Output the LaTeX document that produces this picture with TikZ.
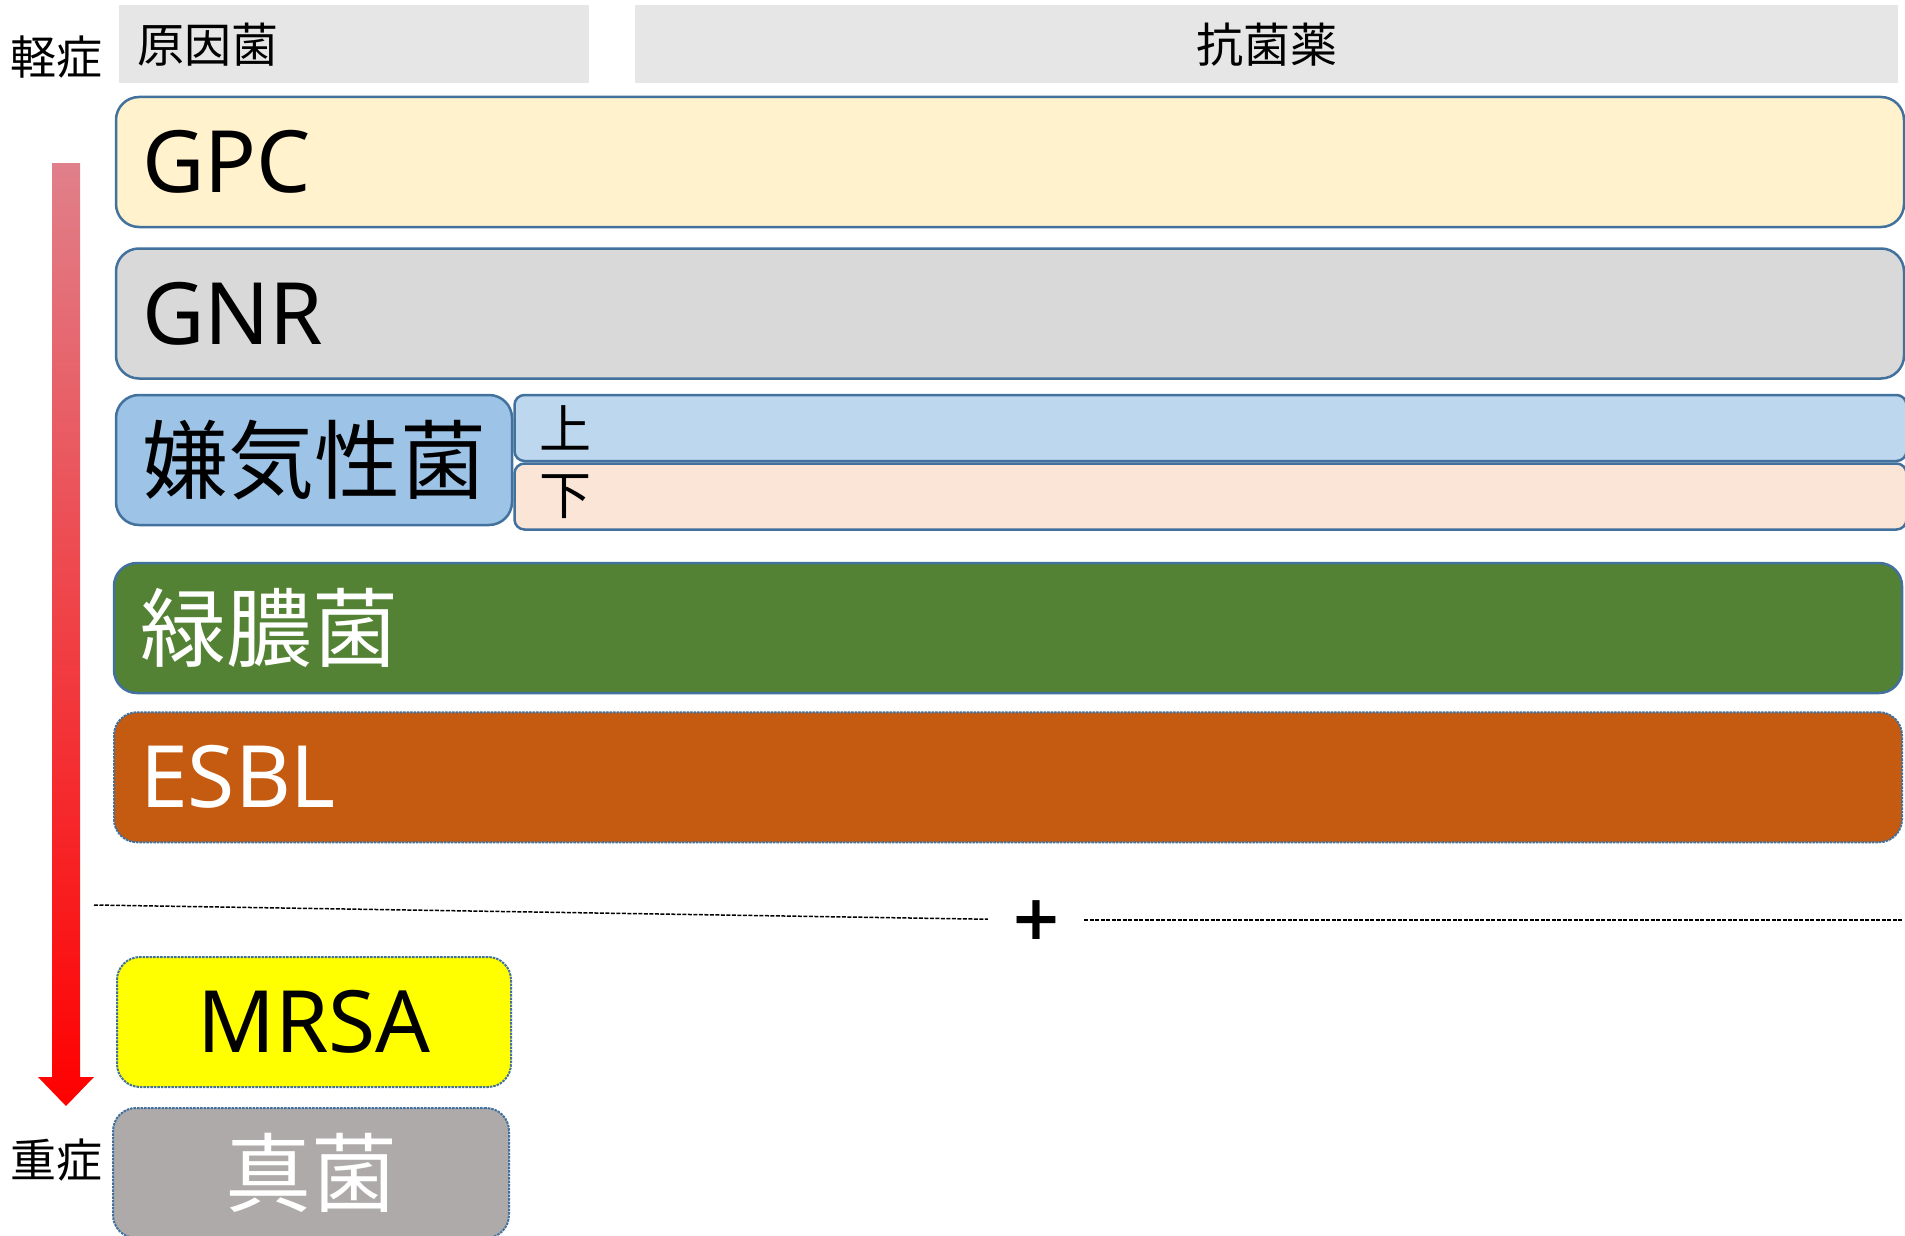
\documentclass[tikz,border=0pt]{standalone}
\usepackage{fontspec}
\setmainfont{Noto Sans CJK JP}
\newfontfamily\latinfont{Noto Sans}
\newfontfamily\plusfont{DejaVu Sans}
\usepackage{tikz}
\usetikzlibrary{positioning, calc}

\definecolor{hdrgray}{HTML}{E6E6E6}
\definecolor{edgeblue}{HTML}{41719C}
\definecolor{gpcfill}{HTML}{FFF2CC}
\definecolor{gnrfill}{HTML}{D9D9D9}
\definecolor{anafill}{HTML}{9DC3E6}
\definecolor{upfill}{HTML}{BDD7EE}
\definecolor{lowfill}{HTML}{FBE5D6}
\definecolor{pafill}{HTML}{548235}
\definecolor{esblfill}{HTML}{C55A11}
\definecolor{mrsafill}{HTML}{FFFF00}
\definecolor{fungfill}{HTML}{AEAAAA}
\definecolor{arrowtop}{HTML}{E0808A}

\begin{document}
\begin{tikzpicture}[
    x=1pt, y=-1pt,
    hdr/.style={rectangle, fill=hdrgray, minimum height=78pt, inner xsep=18pt, inner ysep=0pt, font=\fontsize{47}{50}\selectfont},
    bar/.style={rectangle, draw=edgeblue, line width=2.5pt, rounded corners=23pt, minimum height=130pt, inner xsep=26pt, inner ysep=0pt, font=\fontsize{86}{90}\selectfont},
    wide/.style={bar, minimum width=1788pt, text width=1736pt, align=left},
    dotbar/.style={bar, densely dotted, line width=2pt},
    half/.style={rectangle, draw=edgeblue, line width=2.5pt, rounded corners=10pt, minimum width=1392pt, text width=1342pt, minimum height=66pt, inner xsep=25pt, inner ysep=0pt, align=left, font=\fontsize{52}{54}\selectfont},
    sev/.style={font=\fontsize{46}{50}\selectfont},
    dashline/.style={line width=1.5pt, dash pattern=on 4pt off 1.5pt},
    node distance=20pt
]
\useasboundingbox (0,0) rectangle (1905,1236);

% Severity arrow
\coordinate (arrTop) at (66,163);
\coordinate (arrTip) at (66,1106);
\shade[top color=arrowtop, bottom color=red]
    ($(arrTop)+(-14,0)$) -- ($(arrTop)+(14,0)$) -- ($(arrTip)+(14,-29)$) -- ($(arrTip)+(28,-29)$)
    -- (arrTip) -- ($(arrTip)+(-28,-29)$) -- ($(arrTip)+(-14,-29)$) -- cycle;
\node[sev] (mild) at (56,57) {軽症};
\node[sev] (severe) at (56,1160) {重症};

% Headers
\node[hdr, minimum width=470pt, text width=434pt, align=left] (cause) at (354,44.5) {原因菌};
\node[hdr, minimum width=1263pt, right=46pt of cause] (drug) {抗菌薬};

% Organisms
\node[wide, fill=gpcfill] (gpc) at (1010,162) {\latinfont GPC};
\node[wide, fill=gnrfill, below=19pt of gpc] (gnr) {\latinfont GNR};
\node[bar, fill=anafill, minimum width=394pt, below right=14pt and 0pt of gnr.south west, anchor=north west] (ana) {嫌気性菌};
\node[half, fill=upfill, anchor=north west] (upper) at (ana.north east) {上};
\node[half, fill=lowfill, below=0pt of upper] (lower) {下};
\node[wide, fill=pafill, text=white] (pa) at (1008,628) {緑膿菌};
\node[wide, dotbar, fill=esblfill, text=white, below=17pt of pa] (esbl) {\latinfont ESBL};

% Separator
\node[font=\fontsize{62}{62}\selectfont\plusfont\bfseries, inner sep=22pt] (plus) at (1036,920) {+};
\coordinate (sepL) at (94,905);
\coordinate (sepR) at (1903,920);
\draw[dashline] (sepL) -- (plus);
\draw[dashline] (plus) -- (sepR);

% Additional organisms
\node[dotbar, fill=mrsafill, minimum width=394pt] (mrsa) at (314,1022) {\latinfont MRSA};
\node[dotbar, fill=fungfill, text=white, minimum width=396pt, below=19pt of mrsa, xshift=-3pt] (fungus) {真菌};

\end{tikzpicture}
\end{document}
